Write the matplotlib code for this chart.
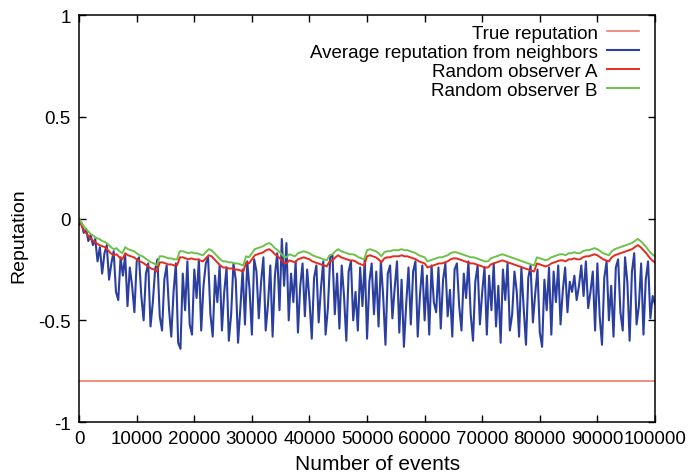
import numpy as np
import matplotlib.pyplot as plt

plt.rcParams['font.family'] = ['Liberation Sans', 'DejaVu Sans']
plt.rcParams['axes.unicode_minus'] = False

# --- data ---
true_rep = -0.8

# average reputation from neighbors, sampled every 400 events
events_avg = np.arange(0, 100001, 400)
avg_rep = [
    -0.03, -0.02, -0.07, -0.05, -0.11, -0.08, -0.13, -0.10, -0.21, -0.14,
    -0.27, -0.17, -0.13, -0.30, -0.22, -0.16, -0.36, -0.40, -0.19, -0.28,
    -0.18, -0.43, -0.24, -0.33, -0.46, -0.21, -0.19, -0.38, -0.50, -0.27,
    -0.22, -0.53, -0.41, -0.25, -0.20, -0.48, -0.55, -0.30, -0.23, -0.44,
    -0.58, -0.36, -0.22, -0.61, -0.64, -0.27, -0.45, -0.21, -0.52, -0.57,
    -0.25, -0.39, -0.20, -0.55, -0.33, -0.22, -0.19, -0.47, -0.58, -0.28,
    -0.41, -0.23, -0.55, -0.36, -0.24, -0.60, -0.47, -0.22, -0.30, -0.61,
    -0.44, -0.25, -0.52, -0.21, -0.35, -0.57, -0.20, -0.26, -0.49, -0.31,
    -0.19, -0.55, -0.42, -0.23, -0.58, -0.28, -0.17, -0.45, -0.10, -0.33,
    -0.12, -0.50, -0.27, -0.41, -0.21, -0.56, -0.33, -0.22, -0.48, -0.25,
    -0.40, -0.59, -0.29, -0.23, -0.51, -0.34, -0.21, -0.57, -0.44, -0.19,
    -0.18, -0.47, -0.27, -0.54, -0.23, -0.38, -0.60, -0.26, -0.21, -0.50,
    -0.36, -0.55, -0.24, -0.43, -0.20, -0.59, -0.31, -0.22, -0.47, -0.26,
    -0.53, -0.21, -0.38, -0.62, -0.27, -0.23, -0.49, -0.34, -0.21, -0.56,
    -0.30, -0.63, -0.42, -0.24, -0.52, -0.26, -0.21, -0.58, -0.37, -0.23,
    -0.50, -0.28, -0.57, -0.23, -0.41, -0.46, -0.24, -0.54, -0.30, -0.22,
    -0.48, -0.35, -0.58, -0.25, -0.22, -0.43, -0.55, -0.27, -0.39, -0.21,
    -0.47, -0.60, -0.31, -0.23, -0.52, -0.36, -0.24, -0.57, -0.28, -0.45,
    -0.22, -0.53, -0.33, -0.61, -0.25, -0.40, -0.22, -0.55, -0.47, -0.26,
    -0.36, -0.58, -0.24, -0.44, -0.62, -0.29, -0.23, -0.51, -0.37, -0.25,
    -0.56, -0.63, -0.30, -0.45, -0.24, -0.57, -0.26, -0.41, -0.23, -0.52,
    -0.35, -0.24, -0.46, -0.31, -0.36, -0.28, -0.40, -0.33, -0.23, -0.38,
    -0.21, -0.44, -0.36, -0.26, -0.55, -0.22, -0.48, -0.62, -0.29, -0.21,
    -0.50, -0.33, -0.58, -0.24, -0.20, -0.46, -0.55, -0.19, -0.31, -0.60,
    -0.26, -0.17, -0.52, -0.43, -0.22, -0.57, -0.30, -0.21, -0.49, -0.38,
    -0.42,
]

# random observers, sampled every 500 events
events_obs = np.arange(0, 100001, 500)
obs_a = [
    0.00, -0.04, -0.065, -0.08, -0.10, -0.11, -0.12, -0.13, -0.135, -0.14,
    -0.155, -0.17, -0.18, -0.175, -0.19, -0.20, -0.17, -0.18, -0.185, -0.19,
    -0.20, -0.21, -0.215, -0.225, -0.235, -0.245, -0.25, -0.26, -0.215, -0.215,
    -0.22, -0.225, -0.225, -0.23, -0.23, -0.19, -0.19, -0.195, -0.20, -0.195,
    -0.20, -0.20, -0.205, -0.21, -0.195, -0.18, -0.185, -0.20, -0.215, -0.23,
    -0.24, -0.24, -0.245, -0.245, -0.25, -0.25, -0.255, -0.26, -0.215, -0.22,
    -0.20, -0.18, -0.175, -0.17, -0.165, -0.155, -0.15, -0.16, -0.175, -0.185,
    -0.20, -0.215, -0.22, -0.205, -0.21, -0.215, -0.20, -0.195, -0.19, -0.195,
    -0.20, -0.21, -0.215, -0.22, -0.225, -0.23, -0.235, -0.21, -0.205, -0.19,
    -0.18, -0.19, -0.195, -0.20, -0.205, -0.205, -0.21, -0.22, -0.225, -0.23,
    -0.185, -0.18, -0.185, -0.19, -0.20, -0.215, -0.195, -0.19, -0.19, -0.185,
    -0.185, -0.185, -0.18, -0.185, -0.185, -0.19, -0.195, -0.20, -0.21, -0.215,
    -0.22, -0.24, -0.235, -0.23, -0.225, -0.22, -0.22, -0.215, -0.21, -0.20,
    -0.195, -0.195, -0.20, -0.205, -0.21, -0.215, -0.22, -0.22, -0.225, -0.23,
    -0.235, -0.24, -0.24, -0.225, -0.22, -0.215, -0.21, -0.205, -0.21, -0.215,
    -0.22, -0.225, -0.23, -0.235, -0.24, -0.245, -0.25, -0.255, -0.26, -0.22,
    -0.225, -0.23, -0.235, -0.23, -0.22, -0.215, -0.21, -0.205, -0.205, -0.21,
    -0.20, -0.20, -0.195, -0.20, -0.20, -0.19, -0.185, -0.185, -0.18, -0.175,
    -0.18, -0.19, -0.20, -0.205, -0.21, -0.19, -0.18, -0.175, -0.17, -0.165,
    -0.16, -0.155, -0.15, -0.14, -0.13, -0.14, -0.155, -0.17, -0.19, -0.205,
    -0.215,
]
obs_b = [
    0.00, -0.025, -0.045, -0.06, -0.075, -0.085, -0.095, -0.10, -0.11, -0.115,
    -0.125, -0.14, -0.15, -0.145, -0.16, -0.17, -0.14, -0.15, -0.155, -0.16,
    -0.17, -0.18, -0.185, -0.195, -0.205, -0.215, -0.22, -0.23, -0.185, -0.185,
    -0.19, -0.195, -0.195, -0.20, -0.20, -0.16, -0.16, -0.165, -0.17, -0.165,
    -0.17, -0.17, -0.175, -0.18, -0.165, -0.15, -0.155, -0.17, -0.185, -0.20,
    -0.21, -0.21, -0.215, -0.215, -0.22, -0.22, -0.225, -0.23, -0.185, -0.19,
    -0.17, -0.15, -0.145, -0.14, -0.135, -0.125, -0.12, -0.13, -0.145, -0.155,
    -0.17, -0.185, -0.19, -0.175, -0.18, -0.185, -0.17, -0.165, -0.16, -0.165,
    -0.17, -0.18, -0.185, -0.19, -0.195, -0.20, -0.205, -0.18, -0.175, -0.16,
    -0.15, -0.16, -0.165, -0.17, -0.175, -0.175, -0.18, -0.19, -0.195, -0.20,
    -0.155, -0.15, -0.155, -0.16, -0.17, -0.185, -0.165, -0.16, -0.16, -0.155,
    -0.155, -0.155, -0.15, -0.155, -0.155, -0.16, -0.165, -0.17, -0.18, -0.185,
    -0.19, -0.21, -0.205, -0.20, -0.195, -0.19, -0.19, -0.185, -0.18, -0.17,
    -0.165, -0.165, -0.17, -0.175, -0.18, -0.185, -0.19, -0.19, -0.195, -0.20,
    -0.205, -0.21, -0.21, -0.195, -0.19, -0.185, -0.18, -0.175, -0.18, -0.185,
    -0.19, -0.195, -0.20, -0.205, -0.21, -0.215, -0.22, -0.225, -0.23, -0.19,
    -0.195, -0.20, -0.205, -0.20, -0.19, -0.185, -0.18, -0.175, -0.175, -0.18,
    -0.17, -0.17, -0.165, -0.17, -0.17, -0.16, -0.155, -0.155, -0.15, -0.145,
    -0.15, -0.16, -0.17, -0.175, -0.18, -0.16, -0.15, -0.145, -0.14, -0.135,
    -0.13, -0.125, -0.12, -0.11, -0.10, -0.11, -0.125, -0.14, -0.16, -0.175,
    -0.185,
]

# --- plot ---
fig = plt.figure(figsize=(6.88, 4.77), dpi=100)
ax = fig.add_axes([0.115, 0.113, 0.837, 0.853])

ax.axhline(true_rep, color='#ee7a70', lw=1.2, label='True reputation')
ax.plot(events_avg, avg_rep, color='#2b3f9e', lw=1.5, label='Average reputation from neighbors')
ax.plot(events_obs, obs_a, color='#e8291f', lw=1.4, label='Random observer A')
ax.plot(events_obs, obs_b, color='#6cc24a', lw=1.4, label='Random observer B')

ax.set_xlim(0, 100000)
ax.set_ylim(-1, 1)
ax.set_xticks(np.arange(0, 100001, 10000))
ax.set_yticks([-1, -0.5, 0, 0.5, 1])
ax.set_yticklabels(['-1', '-0.5', '0', '0.5', '1'])
ax.tick_params(direction='in', length=5, width=1, top=True, right=True,
               labelsize=13.5, pad=6)
for s in ax.spines.values():
    s.set_linewidth(1.1)

ax.set_xlabel('Number of events', fontsize=15)
ax.set_ylabel('Reputation', fontsize=14)
ax.xaxis.set_label_coords(0.519, -0.078)
ax.yaxis.set_label_coords(-0.09, 0.46)

ax.legend(loc='upper right', bbox_to_anchor=(0.972, 0.977), frameon=False,
          markerfirst=False, fontsize=13.5, handlelength=1.7,
          handletextpad=0.5, labelspacing=0.1, borderaxespad=0, borderpad=0)

plt.savefig('out.png', dpi=100)
